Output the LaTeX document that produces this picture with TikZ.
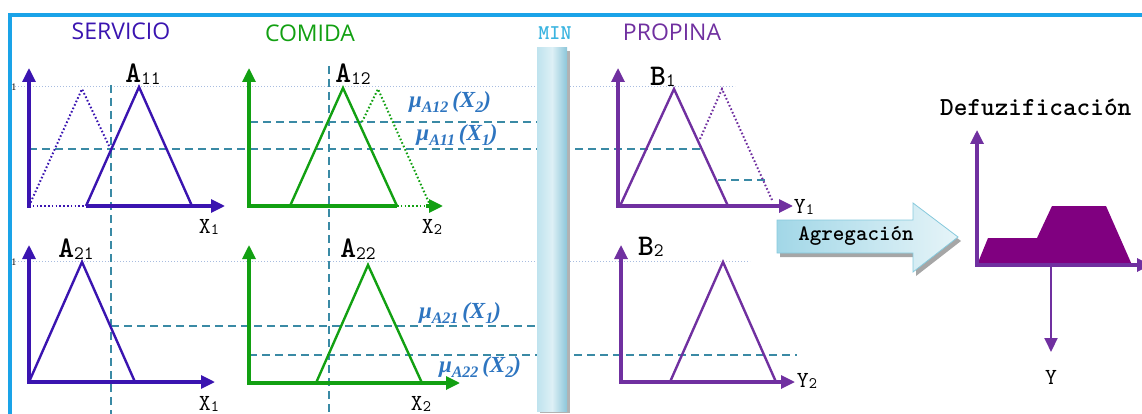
\documentclass[tikz,border=0pt]{standalone}
\usepackage{fontspec}
\setmainfont{Liberation Serif}
\setsansfont{Open Sans}
\usetikzlibrary{arrows.meta}
\definecolor{frameblue}{HTML}{1AA3E8}
\definecolor{serv}{HTML}{3A14B0}
\definecolor{comi}{HTML}{12A012}
\definecolor{prop}{HTML}{7030A0}
\definecolor{dashc}{HTML}{3A8AA5}
\definecolor{mucol}{HTML}{2E75C0}
\definecolor{onec}{HTML}{A8BCE0}
\definecolor{minc}{HTML}{3BB4E0}
\definecolor{defz}{HTML}{800080}
\definecolor{barl}{HTML}{BFE3EE}
\definecolor{barm}{HTML}{DDF0F6}
\definecolor{barr}{HTML}{8CC6D9}
\definecolor{arrl}{HTML}{A2D7E7}
\definecolor{arrr}{HTML}{E6F4F8}
\definecolor{arrb}{HTML}{86C9DC}
\newcommand\setlab[2]{{\fontsize{30}{30}\selectfont\ttfamily\bfseries #1}\raisebox{-0.3ex}{\fontsize{19}{19}\selectfont\ttfamily #2}}
\newcommand\axlab[2]{{\fontsize{23}{23}\selectfont\ttfamily #1}\raisebox{-0.4ex}{\fontsize{16}{16}\selectfont\ttfamily #2}}
\newcommand\mulab[2]{{\color{mucol}\bfseries\itshape\fontsize{23}{23}\selectfont μ\raisebox{-0.45ex}{\fontsize{16}{16}\selectfont #1}\,(X\raisebox{-0.45ex}{\fontsize{16}{16}\selectfont #2})}}
\begin{document}
\begin{tikzpicture}[x=1pt,y=-1pt,
  >={Triangle[length=14pt,width=13pt]},
  ax/.style={line width=3.2pt,line join=miter},
  tri/.style={line width=2.4pt,line join=miter},
  dottri/.style={line width=2pt,dash pattern=on 1.6pt off 2.2pt},
  dashl/.style={dashc,line width=1.6pt,dash pattern=on 8pt off 5pt},
  onel/.style={onec,line width=1pt,dash pattern=on 1pt off 2pt},
  title/.style={font=\sffamily\fontsize{23}{23}\selectfont},
  lab/.style={inner sep=0pt},
  onelab/.style={inner sep=0pt,font=\fontsize{10}{10}\selectfont,text=black}]
\useasboundingbox (0,0) rectangle (1142,414);
% frame
\draw[frameblue,line width=4pt] (10,416) -- (10,15) -- (1144,15);
% titles
\node[title,text=serv] (tserv) at (121,31) {SERVICIO};
\node[title,text=comi] (tcomi) at (310,33) {COMIDA};
\node[title,text=prop] (tprop) at (672,32) {PROPINA};
\node[font=\ttfamily\bfseries\fontsize{21}{21}\selectfont,text=minc] (tmin) at (555,33) {MIN};
% level 1 lines
\draw[onel] (15,87) -- (735,87);
\draw[onel] (15,261) -- (750,261);
\node[onelab] (one1) at (14,87) {1};
\node[onelab] (one2) at (14,262) {1};
% dashed guides
\draw[dashl] (111,85) -- (111,414);
\draw[dashl] (329,66) -- (329,414);
\draw[dashl] (29,149) -- (702,149);
\draw[dashl] (250,122) -- (537,122);
\draw[dashl] (718,180) -- (765,180);
\draw[dashl] (111,326) -- (537,326);
\draw[dashl] (249,355) -- (797,355);
% SERVICIO top
\draw[ax,serv,<-] (29,68) -- (29,207.6);
\draw[dottri,serv] (29,206) -- (86,206);
\draw[ax,serv,->] (86,206) -- (225,206);
\draw[tri,serv] (86,206) -- (139,87) -- (192,206);
\draw[dottri,serv] (29,206) -- (82,89) -- (110,148);
\node[lab] (a11) at (143,74) {\setlab{A}{11}};
\node[lab] (x1a) at (209,227) {\axlab{X}{1}};
% COMIDA top
\draw[ax,comi,<-] (249,68) -- (249,207.6);
\draw[ax,comi] (247.4,206) -- (397,206);
\draw[dottri,comi] (397,206) -- (430,206);
\draw[ax,comi,->] (426,206) -- (443,206);
\draw[tri,comi] (290,206) -- (343,88) -- (397,206);
\draw[dottri,comi] (362,122) -- (378,89) -- (430,205);
\node[lab] (a12) at (353,74) {\setlab{A}{12}};
\node[lab] (x2a) at (432,227) {\axlab{X}{2}};
% SERVICIO bottom
\draw[ax,serv,<->] (29,245) -- (29,382) -- (215,382);
\draw[tri,serv] (29,382) -- (82,262) -- (135,382);
\node[lab] (a21) at (76,249) {\setlab{A}{21}};
\node[lab] (x1b) at (209,404) {\axlab{X}{1}};
% COMIDA bottom
\draw[ax,comi,<->] (249,245) -- (249,383) -- (460,383);
\draw[tri,comi] (316,383) -- (368,265) -- (422,383);
\node[lab] (a22) at (358,249) {\setlab{A}{22}};
\node[lab] (x2b) at (421,404) {\axlab{X}{2}};
% mu labels
\node[lab] (mu12) at (450,102) {\mulab{A12}{2}};
\node[lab] (mu11) at (457,135) {\mulab{A11}{1}};
\node[lab] (mu21) at (460,313) {\mulab{A21}{1}};
\node[lab] (mu22) at (480,367) {\mulab{A22}{2}};
% MIN bar
\fill[black!30] (540,51) rectangle (570,413);
\shade[left color=barl,right color=barr,middle color=barm] (537,48) rectangle (567,411);
% PROPINA top
\draw[ax,prop,<->] (618,68) -- (618,206) -- (793,206);
\draw[tri,prop] (620,206) -- (674,89) -- (728,206);
\draw[dottri,prop] (700,139) -- (722,89) -- (772,200);
\node[lab] (b1) at (663,77) {\setlab{B}{1}};
\node[lab] (y1) at (804,207) {\axlab{Y}{1}};
% PROPINA bottom
\draw[ax,prop,<->] (621,245) -- (621,382) -- (795,382);
\draw[tri,prop] (670,382) -- (723,262) -- (776,382);
\node[lab] (b2) at (651,247) {\setlab{B}{2}};
\node[lab] (y2) at (807,381) {\axlab{Y}{2}};
% Agregacion arrow
\fill[black!35] (780,224) -- (916,224) -- (916,207) -- (961,241) -- (916,276) -- (916,257) -- (780,257) -- cycle;
\shade[left color=arrl,right color=arrr,draw=arrb,line width=0.8pt] (777,220) -- (913,220) -- (913,203) -- (958,237) -- (913,272) -- (913,253) -- (777,253) -- cycle;
\node[font=\ttfamily\bfseries\fontsize{22}{22}\selectfont] (agr) at (856,236) {Agregación};
% Defuzzification
\node[anchor=west,font=\ttfamily\bfseries\fontsize{26}{26}\selectfont,inner sep=0pt] (defz) at (940,107) {Defuzificación};
\fill[defz] (977,265) -- (988,238) -- (1037,238) -- (1052,206) -- (1106,206) -- (1132,265) -- cycle;
\draw[ax,prop,<->] (977,130) -- (977,265) -- (1151,265);
\draw[prop,line width=2pt,->] (1051,265) -- (1051,352);
\node[lab] (yy) at (1051,378) {\axlab{Y}{}};
\end{tikzpicture}
\end{document}
